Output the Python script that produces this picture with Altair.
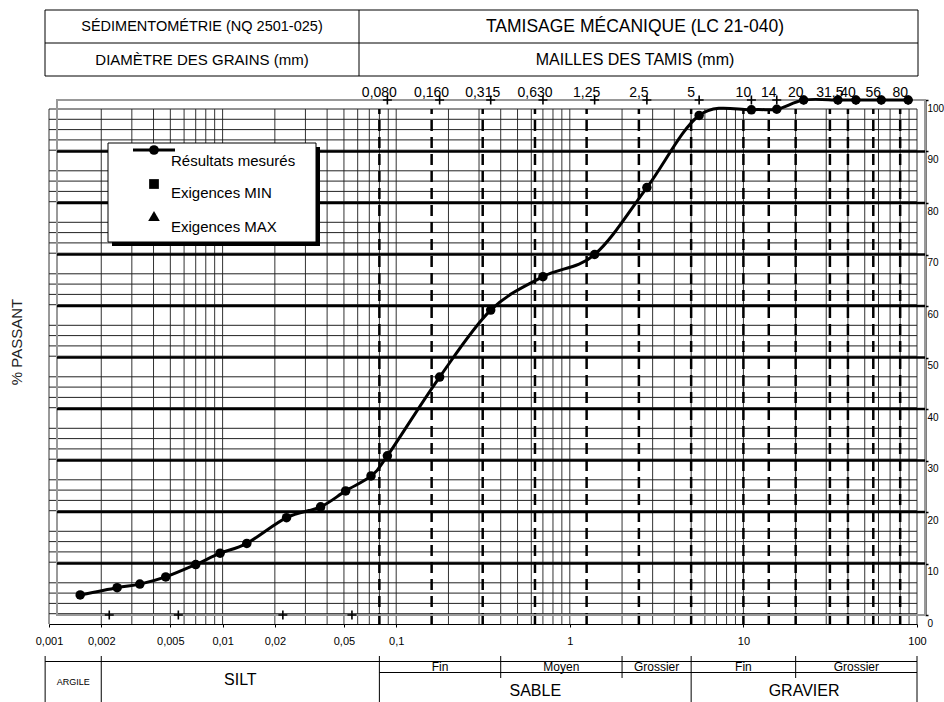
import altair as alt
import pandas as pd

FONT = "Liberation Sans"

# ---------------- data ----------------
size_mm = [0.00136, 0.00222, 0.0030, 0.00423, 0.0063, 0.0087, 0.0124, 0.021, 0.033,
           0.046, 0.0644, 0.080, 0.160, 0.315, 0.630, 1.25, 2.5, 5, 10, 14, 20,
           31.5, 40, 56, 80]
passing = [3.9, 5.3, 6.0, 7.4, 9.8, 12.0, 13.9, 18.9, 21.0, 24.1, 27.0, 30.9, 46.2,
           59.2, 65.7, 70.0, 83.0, 97.0, 98.1, 98.2, 100, 100, 100, 100, 100]

sieve_mm = [0.080, 0.160, 0.315, 0.630, 1.25, 2.5, 5, 10, 14, 20, 31.5, 40, 56, 80]
sieve_lbl = ["0,080", "0,160", "0,315", "0,630", "1,25", "2,5", "5", "10", "14",
             "20", "31,5", "40", "56", "80"]
sedi_mm = [0.002, 0.005, 0.02, 0.05]

x_ticks = [0.001, 0.002, 0.005, 0.01, 0.02, 0.05, 0.1, 1, 10, 100]
pct_ticks = [0, 10, 20, 30, 40, 50, 60, 70, 80, 90, 100]
major_levels = [10, 20, 30, 40, 50, 60, 70, 80, 90]
minor_levels = [d * 10 + k for d in range(10) for k in (2, 4, 6, 8)] + [100]
log_grid = [m * 10.0 ** e for e in range(-3, 2) for m in range(1, 10)] + [100]

# classification table (mm boundaries)
sub_lbl = ["Fin", "Moyen", "Grossier", "Fin", "Grossier"]
sub_lo = [0.08, 0.4, 2, 5, 20]
sub_hi = [0.4, 2, 5, 20, 100]
main_lbl = ["ARGILE", "SILT", "SABLE", "GRAVIER"]
main_lo = [0.00095, 0.002, 0.08, 5]
main_hi = [0.002, 0.08, 5, 100]

header_row1 = ["SÉDIMENTOMÉTRIE (NQ 2501-025)", "TAMISAGE MÉCANIQUE (LC 21-040)"]
header_row2 = ["DIAMÈTRE DES GRAINS (mm)", "MAILLES DES TAMIS (mm)"]
legend_lbl = ["Résultats mesurés", "Exigences MIN", "Exigences MAX"]

# ---------------- scales ----------------
W, H = 876, 524
xg_scale = alt.Scale(type="log", domain=[0.001, 100], range=[0, 868], nice=False)
xd_scale = alt.Scale(type="log", domain=[0.001, 100], range=[8, 876], nice=False)
yg_scale = alt.Scale(domain=[0, 100], range=[524, 9], nice=False, zero=False)
yd_scale = alt.Scale(domain=[0, 100], range=[515, 0], nice=False, zero=False)

bottom_axis = alt.Axis(orient="bottom", values=x_ticks, title=None, grid=False,
                       labelExpr="replace(format(datum.value, '~g'), '.', ',')",
                       tickSize=3, labelPadding=8, labelFontSize=11, labelFont=FONT,
                       labelColor="black", domainColor="black", tickColor="black",
                       labelFlush=False, labelOverlap=False)
right_axis = alt.Axis(orient="right", values=pct_ticks, title=None, grid=False,
                      tickSize=3, tickWidth=1.5, labelPadding=-1, labelBaseline="top",
                      labelOffset=3, labelFontSize=10, labelFont=FONT, labelColor="black",
                      domainColor="black", domainWidth=2, tickColor="black",
                      labelAlign="left", labelFlush=False, labelOverlap=False)


def XG(f):
    return alt.X(f, type="quantitative", scale=xg_scale, axis=bottom_axis)


def YG(f):
    return alt.Y(f, type="quantitative", scale=yg_scale, axis=None)


def XD(f):
    return alt.X(f, type="quantitative", scale=xd_scale, axis=None)


def YD(f):
    return alt.Y(f, type="quantitative", scale=yd_scale, axis=right_axis)


one = pd.DataFrame({"k": [0]})

# ---------------- grid group (printed log paper) ----------------
vgrid = alt.Chart(pd.DataFrame({"x": log_grid, "y0": 0, "y1": 100})).mark_rule(
    color="#333", strokeWidth=1).encode(x=XG("x"), y=YG("y0"), y2="y1")

hgrid = alt.Chart(pd.DataFrame({"lvl": minor_levels, "x0": 0.001, "x1": 100})).mark_rule(
    color="#222", strokeWidth=1).encode(x=XG("x0"), x2="x1", y=YG("lvl"))

sieve_df = pd.DataFrame({"mm": sieve_mm, "lbl": sieve_lbl, "y0": 0, "y1": 100})
dashed = alt.Chart(sieve_df).mark_rule(color="black", strokeWidth=2.5,
                                       strokeDash=[11, 6]).encode(
    x=XG("mm"), y=YG("y0"), y2="y1")
sieve_text = alt.Chart(sieve_df).mark_text(fontSize=14, font=FONT, dy=-16,
                                           color="black").encode(
    x=XG("mm"), y=YG("y1"), text="lbl")

# classification table
TT, TM, TB = 556, 578, 620
v_full = main_lo + [100]
v_half = [0.4, 2, 20]
tbl_vfull = alt.Chart(pd.DataFrame({"x": v_full})).mark_rule(
    color="black", strokeWidth=1).encode(x=XG("x"), y=alt.value(TT), y2=alt.value(TB))
tbl_vhalf = alt.Chart(pd.DataFrame({"x": v_half})).mark_rule(
    color="black", strokeWidth=1).encode(x=XG("x"), y=alt.value(TT), y2=alt.value(TM))
tbl_h = alt.Chart(pd.DataFrame({"x0": [main_lo[0], 0.08], "x1": [100, 100],
                                "row": ["top", "mid"]})).mark_rule(
    color="black", strokeWidth=1).encode(
    x=XG("x0"), x2="x1",
    y=alt.Y("row:N", scale=alt.Scale(domain=["top", "mid"], range=[TT, TM]), axis=None))

sub_df = pd.DataFrame({"lbl": sub_lbl, "lo": sub_lo, "hi": sub_hi})
sub_df["xc"] = (sub_df["lo"] * sub_df["hi"]) ** 0.5
sub_text = alt.Chart(sub_df).mark_text(fontSize=12, font=FONT, color="black").encode(
    x=XG("xc"), y=alt.value(567), text="lbl")

main_df = pd.DataFrame({"lbl": main_lbl, "lo": main_lo, "hi": main_hi})
main_df["xc"] = (main_df["lo"] * main_df["hi"]) ** 0.5
argile_text = alt.Chart(main_df.iloc[[0]]).mark_text(fontSize=9, font=FONT, color="black").encode(
    x=XG("xc"), y=alt.value(582), text="lbl")
silt_text = alt.Chart(main_df.iloc[[1]]).mark_text(fontSize=16, font=FONT, color="black").encode(
    x=XG("xc"), y=alt.value(580), text="lbl")
sg_text = alt.Chart(main_df.iloc[[2, 3]]).mark_text(fontSize=16, font=FONT, color="black").encode(
    x=XG("xc"), y=alt.value(591), text="lbl")

# header table
hdr_box = alt.Chart(one).mark_rect(fillOpacity=0, stroke="black", strokeWidth=1).encode(
    x=alt.value(-4), x2=alt.value(869), y=alt.value(-90), y2=alt.value(-24))
hdr_h = alt.Chart(one).mark_rule(color="black", strokeWidth=1).encode(
    x=alt.value(-4), x2=alt.value(869), y=alt.value(-57))
hdr_v = alt.Chart(one).mark_rule(color="black", strokeWidth=1).encode(
    x=alt.value(310), y=alt.value(-90), y2=alt.value(-24))
hdr_t1 = alt.Chart(one).mark_text(fontSize=14.5, font=FONT, color="black",
                                  text=header_row1[0]).encode(x=alt.value(153), y=alt.value(-73))
hdr_t2 = alt.Chart(one).mark_text(fontSize=17.5, font=FONT, color="black",
                                  text=header_row1[1]).encode(x=alt.value(586), y=alt.value(-73))
hdr_t3 = alt.Chart(one).mark_text(fontSize=15, font=FONT, color="black",
                                  text=header_row2[0]).encode(x=alt.value(153), y=alt.value(-40))
hdr_t4 = alt.Chart(one).mark_text(fontSize=16, font=FONT, color="black",
                                  text=header_row2[1]).encode(x=alt.value(586), y=alt.value(-40))

ytitle = alt.Chart(one).mark_text(fontSize=15, font=FONT, color="#222", angle=270,
                                  text="% PASSANT").encode(x=alt.value(-32), y=alt.value(242))

grid_group = alt.layer(vgrid, hgrid, dashed, sieve_text, tbl_vfull, tbl_vhalf, tbl_h,
                       sub_text, argile_text, silt_text, sg_text,
                       hdr_box, hdr_h, hdr_v, hdr_t1, hdr_t2, hdr_t3, hdr_t4, ytitle)

# ---------------- data group (the chart itself) ----------------
frame = alt.Chart(pd.DataFrame({"x0": [0.001], "x1": [100], "y0": [0], "y1": [100]})).mark_rect(
    fillOpacity=0, stroke="#999", strokeWidth=2).encode(
    x=XD("x0"), x2="x1", y=YD("y0"), y2="y1")
major = alt.Chart(pd.DataFrame({"lvl": major_levels, "x0": 0.001, "x1": 100})).mark_rule(
    color="black", strokeWidth=2.5).encode(x=XD("x0"), x2="x1", y=YD("lvl"))

plus_shape = "M-1,0L1,0M0,-1L0,1"
plus_top = alt.Chart(pd.DataFrame({"mm": sieve_mm, "y": 100})).mark_point(
    shape=plus_shape, size=81, filled=False, color="black", strokeWidth=1.6, opacity=1).encode(
    x=XD("mm"), y=YD("y"))
plus_bot = alt.Chart(pd.DataFrame({"mm": sedi_mm, "y": 0})).mark_point(
    shape=plus_shape, size=81, filled=False, color="black", strokeWidth=1.6, opacity=1).encode(
    x=XD("mm"), y=YD("y"))

res = pd.DataFrame({"mm": size_mm, "pct": passing})
curve = alt.Chart(res).mark_line(color="black", strokeWidth=3, interpolate="cardinal").encode(
    x=XD("mm"), y=YD("pct"))
dots = alt.Chart(res).mark_circle(color="black", size=90, opacity=1).encode(
    x=XD("mm"), y=YD("pct"))

# legend box (drawn by hand, as in the reference)
leg_shadow = alt.Chart(one).mark_rect(color="black").encode(
    x=alt.value(63), x2=alt.value(271), y=alt.value(47), y2=alt.value(146))
leg_box = alt.Chart(one).mark_rect(fill="white", stroke="black", strokeWidth=1).encode(
    x=alt.value(59), x2=alt.value(267), y=alt.value(43), y2=alt.value(142))
leg_line = alt.Chart(one).mark_rule(color="black", strokeWidth=3).encode(
    x=alt.value(84), x2=alt.value(126), y=alt.value(50))
leg_dot = alt.Chart(one).mark_point(shape="circle", filled=True, size=95, color="black",
                                    opacity=1).encode(x=alt.value(105), y=alt.value(50))
leg_sq = alt.Chart(one).mark_point(shape="square", filled=True, size=95, color="black",
                                   opacity=1).encode(x=alt.value(105), y=alt.value(84))
leg_tri = alt.Chart(one).mark_point(shape="triangle-up", filled=True, size=135, color="black",
                                    opacity=1).encode(x=alt.value(105), y=alt.value(116))
leg_txt = [alt.Chart(one).mark_text(fontSize=15, font=FONT, color="black", align="left",
                                    text=t).encode(x=alt.value(122), y=alt.value(yy))
           for t, yy in zip(legend_lbl, [61, 93, 127])]

data_group = alt.layer(frame, major, plus_top, plus_bot, curve, dots,
                       leg_shadow, leg_box, leg_line, leg_dot, leg_sq, leg_tri, *leg_txt)

# page margin removed through vega-embed's style option, so the chart spans the full window
chart = alt.layer(grid_group, data_group).resolve_scale(
    x="independent", y="independent").properties(
    width=W, height=H,
    autosize=alt.AutoSizeParams(type="none"),
    padding={"left": 49, "top": 100, "right": 19, "bottom": 78},
).configure_view(stroke=None).configure_text(font=FONT)

page_css = ("html,body{margin:0;padding:0;overflow:hidden}"
            ".vega-embed{display:block;position:relative}"
            ".vega-embed svg{display:block}")
chart.save("out.html", embed_options={"renderer": "svg", "actions": False,
                                      "defaultStyle": page_css})
